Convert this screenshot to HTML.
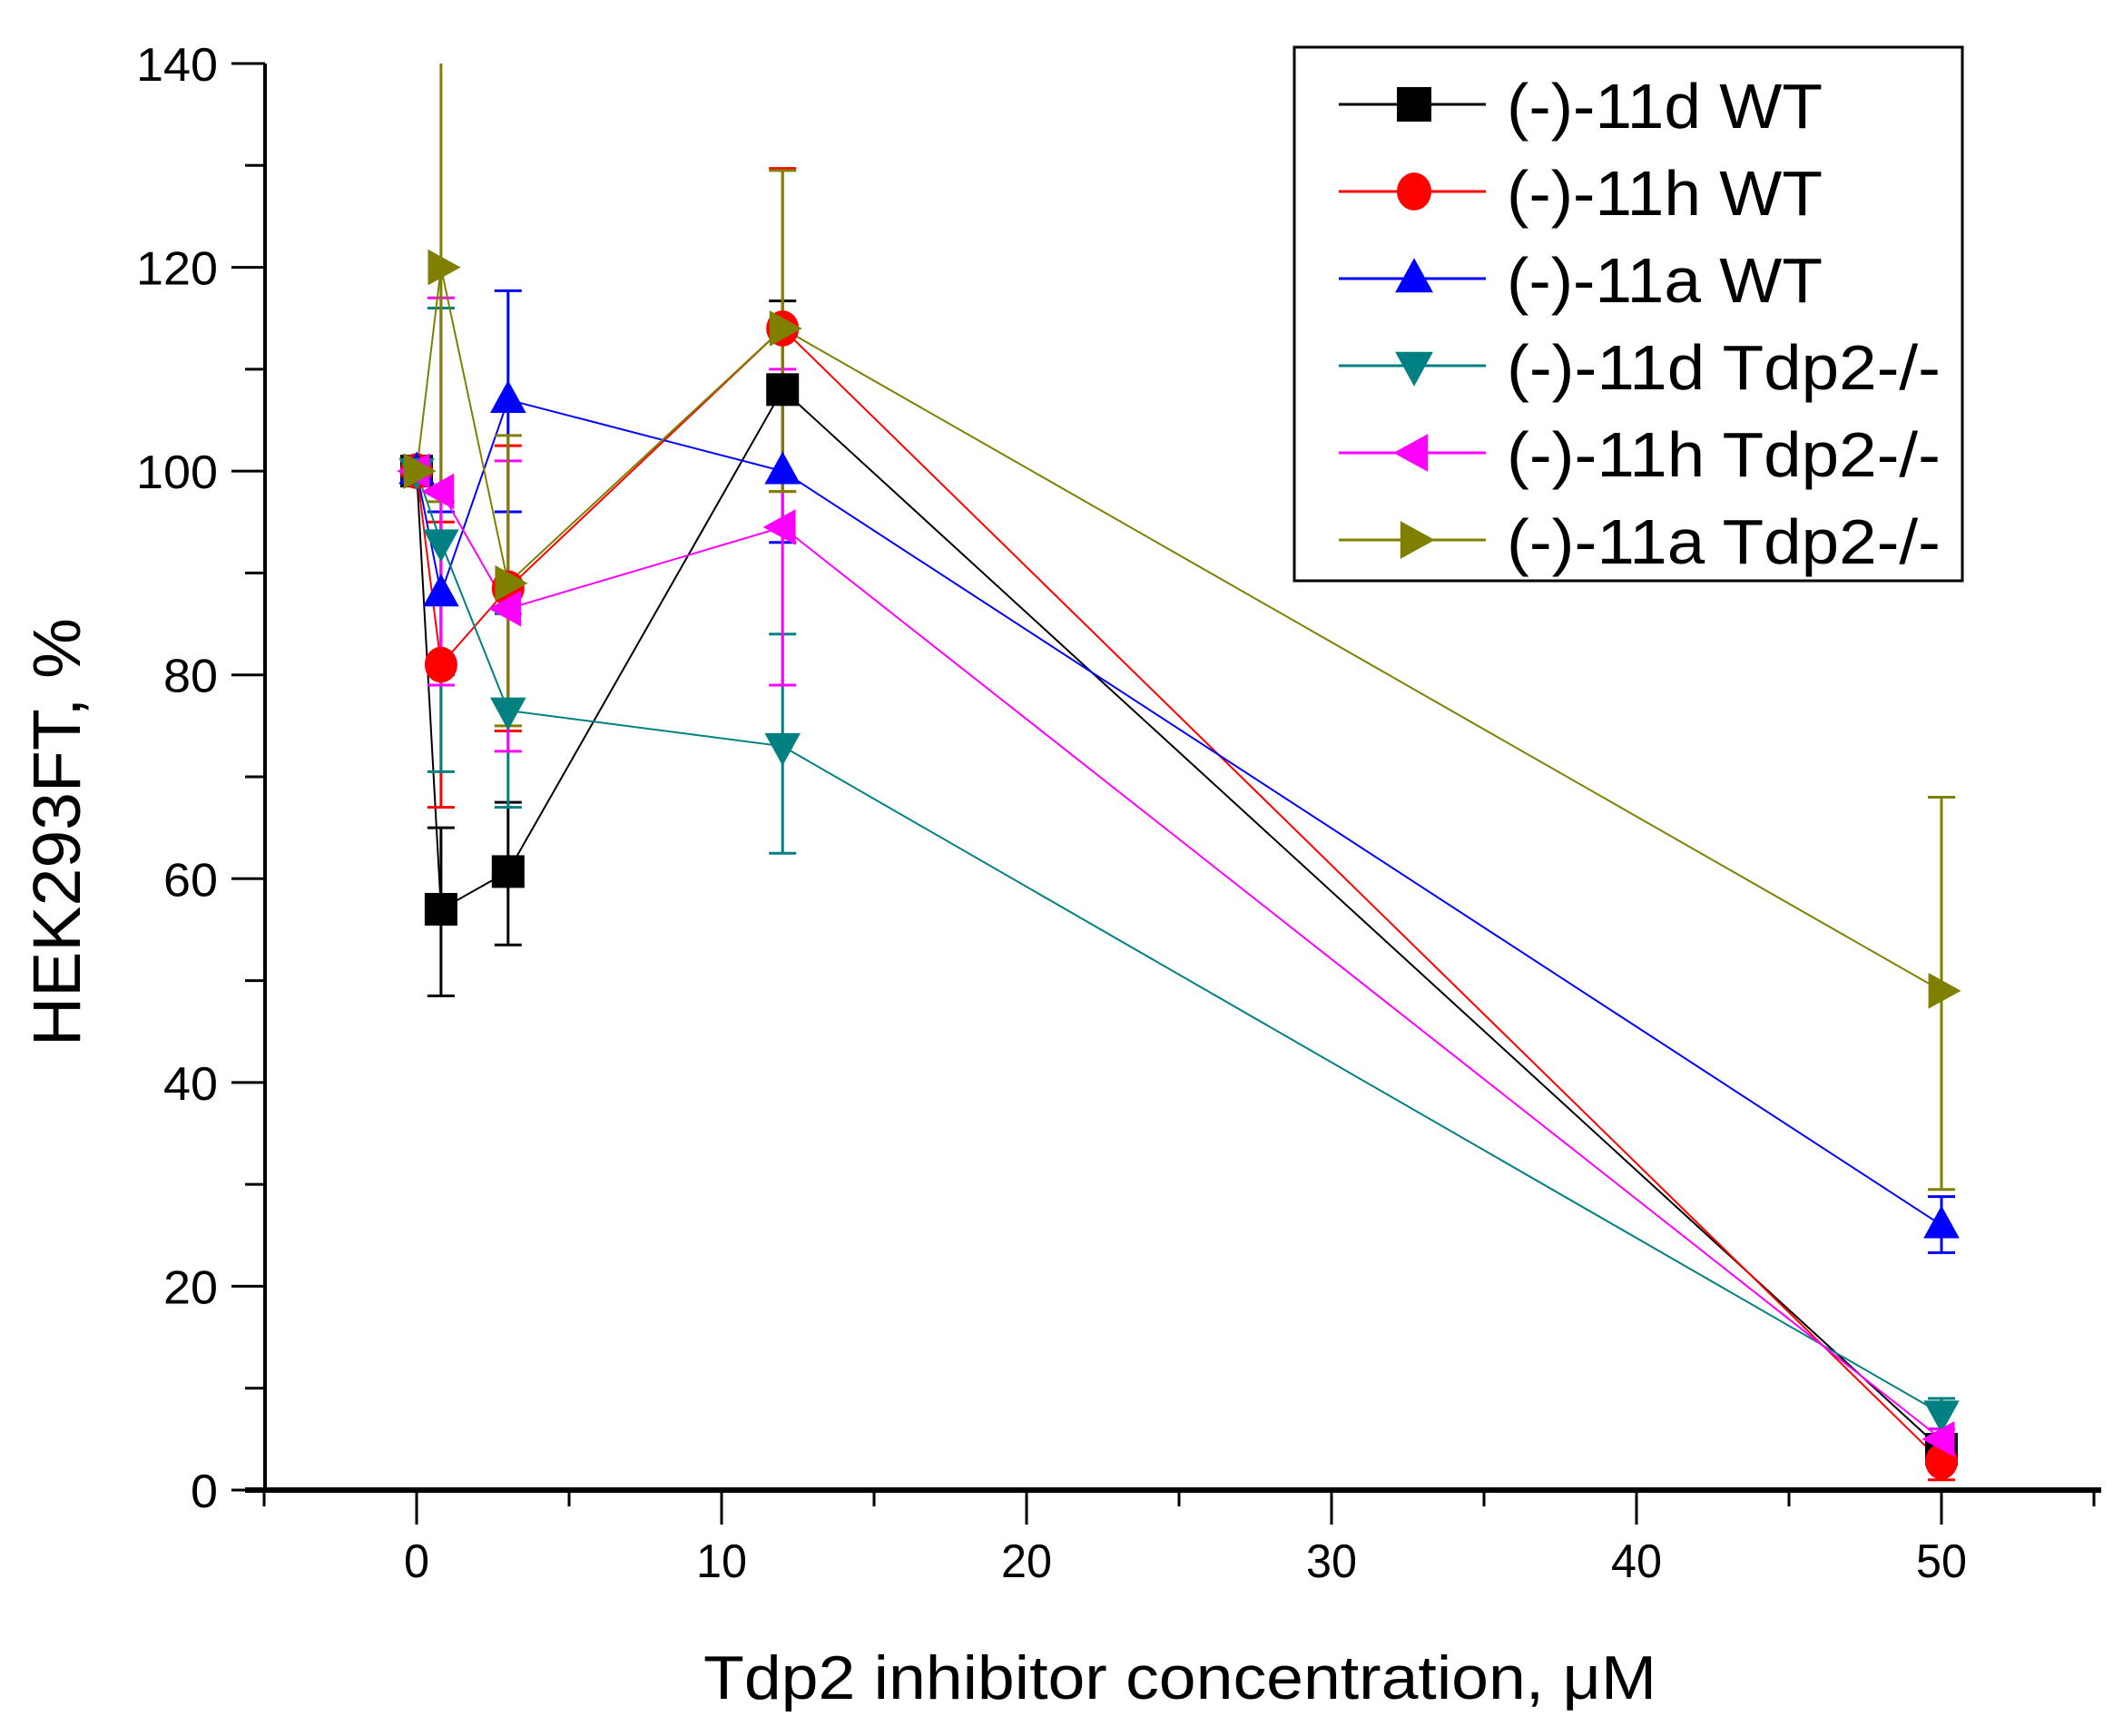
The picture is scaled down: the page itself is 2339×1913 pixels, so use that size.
<!DOCTYPE html>
<html><head><meta charset="utf-8"><style>html,body{margin:0;padding:0;background:#fff}svg{display:block}</style></head>
<body>
<svg id="s" width="2339" height="1913" xmlns="http://www.w3.org/2000/svg" font-family="Liberation Sans, Arial, sans-serif">
<rect width="2339" height="1913" fill="#fff"/>
<g id="axes"></g>
<g id="data"></g>
<g id="leg"></g>
<text x="1300" y="1872" font-size="68" text-anchor="middle" textLength="1050" lengthAdjust="spacingAndGlyphs">Tdp2 inhibitor concentration, μM</text>
<text transform="translate(88,917) rotate(-90)" font-size="74" text-anchor="middle" textLength="472" lengthAdjust="spacingAndGlyphs">HEK293FT, %</text>
</svg>
<script>
const NS="http://www.w3.org/2000/svg";
function el(p,t,a,txt){const e=document.createElementNS(NS,t);for(const k in a)e.setAttribute(k,a[k]);if(txt!==undefined)e.textContent=txt;p.appendChild(e);return e;}
const X=v=>459+v*33.6, Y=v=>1642-v*(1572/140);
const ax=document.getElementById('axes');
el(ax,'line',{x1:292,y1:70,x2:292,y2:1645,stroke:'#000','stroke-width':4});
el(ax,'line',{x1:270,y1:1642,x2:2315,y2:1642,stroke:'#000','stroke-width':6});
for(let v=0;v<=140;v+=10){const y=Y(v);const maj=v%20==0;el(ax,'line',{x1:maj?255:270,y1:y,x2:292,y2:y,stroke:'#000','stroke-width':3});
 if(maj){const s=String(v);el(ax,'text',{x:240,y:y+19,'font-size':52,'text-anchor':'end',textLength:s.length*30,lengthAdjust:'spacingAndGlyphs'},s);}}
for(let v=-5;v<=55;v+=5){const x=X(v);const maj=v%10==0;el(ax,'line',{x1:x,y1:1642,x2:x,y2:maj?1680:1660,stroke:'#000','stroke-width':3});
 if(maj){const s=String(v);el(ax,'text',{x:x,y:1738,'font-size':52,'text-anchor':'middle',textLength:s.length*28,lengthAdjust:'spacingAndGlyphs'},s);}}
const xs=[0,0.8,3,12,50];
const S=[
 {c:'#000000',m:'sq',y:[100,57,60.7,108,4],e:[[100,100],[48.5,65],[53.5,67.5],[99,116.7],[2,6]]},
 {c:'#ff0000',m:'ci',y:[100,81,88.5,114,2.8],e:[[100,100],[67,95],[74.5,102.5],[98,129.7],[1,5]]},
 {c:'#0000ff',m:'up',y:[100,88,107,100,26],e:[[100,100],[80,96],[96,117.7],[93,107],[23.3,28.8]]},
 {c:'#008080',m:'dn',y:[100,93,76.5,73,7.5],e:[[100,100],[70.5,116],[67,86],[62.5,84],[6,9]]},
 {c:'#ff00ff',m:'lt',y:[100,98,86.5,94.5,5],e:[[100,100],[79,117],[72.5,101],[79,110],[4,6]]},
 {c:'#808000',m:'rt',y:[100,120,89,114,49],e:[[100,100],[97,140],[75,103.5],[98,129.5],[29.5,68]]}];
const d=document.getElementById('data');
function marker(g,m,x,y,c,r){
 if(m=='sq')el(g,'rect',{x:x-r,y:y-r,width:2*r,height:2*r,fill:c});
 else if(m=='ci')el(g,'ellipse',{cx:x,cy:y,rx:r,ry:r*1.1,fill:c});
 else{let p;if(m=='up')p=[[x,y-r*1.2],[x+r*1.1,y+r*0.8],[x-r*1.1,y+r*0.8]];
 if(m=='dn')p=[[x,y+r*1.2],[x+r*1.1,y-r*0.8],[x-r*1.1,y-r*0.8]];
 if(m=='lt')p=[[x-r*1.2,y],[x+r*0.8,y-r*1.1],[x+r*0.8,y+r*1.1]];
 if(m=='rt')p=[[x+r*1.2,y],[x-r*0.8,y-r*1.1],[x-r*0.8,y+r*1.1]];
 el(g,'polygon',{points:p.map(q=>q.join(',')).join(' '),fill:c});}
}
S.forEach(s=>{
 el(d,'polyline',{points:xs.map((v,i)=>X(v)+','+Y(s.y[i])).join(' '),fill:'none',stroke:s.c,'stroke-width':2});
 xs.forEach((v,i)=>{const x=X(v);const [lo,hi]=s.e[i];if(hi-lo>0.5){
  el(d,'line',{x1:x,y1:Y(lo),x2:x,y2:Y(Math.min(hi,140)),stroke:s.c,'stroke-width':3});
  el(d,'line',{x1:x-15,y1:Y(lo),x2:x+15,y2:Y(lo),stroke:s.c,'stroke-width':3});
  if(hi<140)el(d,'line',{x1:x-15,y1:Y(hi),x2:x+15,y2:Y(hi),stroke:s.c,'stroke-width':3});}});
});
S.forEach(s=>xs.forEach((v,i)=>marker(d,s.m,X(v),Y(s.y[i]),s.c,18)));
const lg=document.getElementById('leg');
el(lg,'rect',{x:1426,y:52,width:736,height:588,fill:'#fff',stroke:'#000','stroke-width':3});
const names=['(-)-11d WT','(-)-11h WT','(-)-11a WT','(-)-11d Tdp2-/-','(-)-11h Tdp2-/-','(-)-11a Tdp2-/-'];
const lens=[348,348,348,478,478,478];
S.forEach((s,i)=>{const y=115+i*96;
 el(lg,'line',{x1:1475,y1:y,x2:1637,y2:y,stroke:s.c,'stroke-width':3});
 marker(lg,s.m,1558,y,s.c,19);
 el(lg,'text',{x:1660,y:y+26,'font-size':70,textLength:lens[i],lengthAdjust:'spacingAndGlyphs'},names[i]);});
</script>
</body></html>
